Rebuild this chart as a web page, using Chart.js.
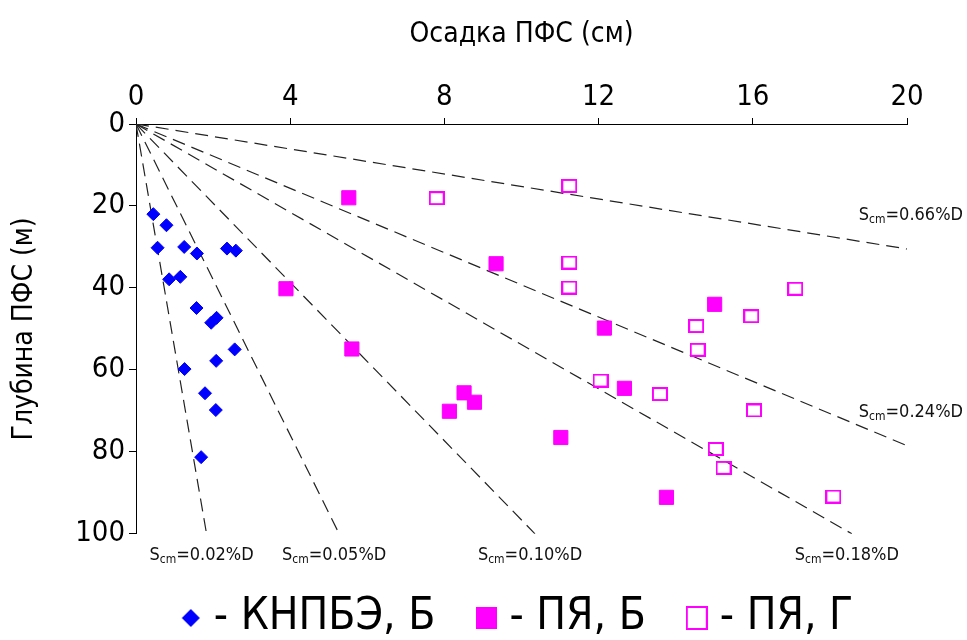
<!DOCTYPE html>
<html>
<head>
<meta charset="utf-8">
<script src="https://cdn.jsdelivr.net/npm/chart.js@4.4.1/dist/chart.umd.min.js"></script>
<style>
    html, body { margin: 0; padding: 0; background: #fff; }
    #wrap { width: 967px; height: 640px; }
</style>
</head>
<body>
<div id="wrap"><canvas id="settle-chart"></canvas></div>
<script>
// settlement (cm) vs depth (m)
var knpbeX = [0.45, 0.79, 0.56, 1.25, 1.58, 2.36, 2.59, 0.86, 1.15, 1.57, 1.95, 2.09, 2.56, 2.08, 1.26, 1.79, 2.07, 1.69];
var knpbeY = [22.0, 24.7, 30.2, 30.0, 31.6, 30.4, 30.9, 37.9, 37.3, 44.9, 48.5, 47.3, 55.0, 57.8, 59.8, 65.7, 69.8, 81.3];
var pyaBX = [5.52, 9.34, 3.89, 5.60, 12.15, 12.67, 8.51, 8.78, 8.13, 11.02, 15.01, 13.76];
var pyaBY = [18.0, 34.1, 40.2, 54.9, 49.8, 64.5, 65.6, 67.9, 70.1, 76.5, 44.0, 91.1];
var pyaGX = [7.80, 11.24, 11.24, 11.24, 12.05, 13.59, 17.10, 15.96, 14.53, 14.57, 16.03, 15.04, 15.24, 18.09];
var pyaGY = [18.1, 15.1, 33.8, 39.9, 62.6, 65.9, 40.2, 46.9, 49.3, 55.1, 69.9, 79.3, 83.9, 90.9];
var seriesNames = ['КНПБЭ, Б', 'ПЯ, Б', 'ПЯ, Г'];

// reference lines S = k*D, drawn from the origin to where they leave the plot
var refNames = ['0.02', '0.05', '0.10', '0.18', '0.24', '0.66'];
var refEndX = [1.83, 5.27, 10.35, 18.57, 20, 20];
var refEndY = [100, 100, 100, 100, 78.5, 30.5];

var xTicks = [0, 4, 8, 12, 16, 20];
var yTicks = [0, 20, 40, 60, 80, 100];

var FONT = "'DejaVu Sans Condensed', 'Liberation Sans Narrow', 'DejaVu Sans', sans-serif";
var BLUE = '#0000ff';
var MAGENTA = '#ff00ff';

function toPoints(xs, ys) {
    return xs.map(function (x, i) { return {x: x, y: ys[i]}; });
}

function makeIcon(w, h, draw) {
    var c = document.createElement('canvas');
    c.width = w;
    c.height = h;
    draw(c.getContext('2d'), w, h);
    return c;
}

var openSquare = makeIcon(16, 14, function (g, w, h) {
    g.strokeStyle = MAGENTA;
    g.lineWidth = 2;
    g.strokeRect(1, 1, w - 2, h - 2);
});

var legendIcons = [
    makeIcon(20, 20, function (g) {
        g.fillStyle = BLUE;
        g.beginPath();
        g.moveTo(10, 1); g.lineTo(19, 10); g.lineTo(10, 19); g.lineTo(1, 10);
        g.closePath();
        g.fill();
    }),
    makeIcon(21, 22, function (g, w, h) {
        g.fillStyle = MAGENTA;
        g.fillRect(0, 0, w, h);
    }),
    makeIcon(22, 24, function (g, w, h) {
        g.strokeStyle = MAGENTA;
        g.lineWidth = 2;
        g.strokeRect(1, 1, w - 2, h - 2);
    })
];

var datasets = [
    {
        label: seriesNames[0],
        data: toPoints(knpbeX, knpbeY),
        pointStyle: 'rectRot',
        pointRadius: 6.5,
        backgroundColor: BLUE,
        borderColor: BLUE,
        borderWidth: 1
    },
    {
        label: seriesNames[1],
        data: toPoints(pyaBX, pyaBY),
        pointStyle: 'rect',
        pointRadius: 10,
        backgroundColor: MAGENTA,
        borderColor: MAGENTA,
        borderWidth: 1
    },
    {
        label: seriesNames[2],
        data: toPoints(pyaGX, pyaGY),
        pointStyle: openSquare,
        pointRadius: 8,
        backgroundColor: 'rgba(0,0,0,0)',
        borderColor: MAGENTA
    }
];

refNames.forEach(function (name, i) {
    datasets.push({
        label: 'S=' + name + '%D',
        data: [{x: 0, y: 0}, {x: refEndX[i], y: refEndY[i]}],
        showLine: true,
        fill: false,
        borderColor: '#222',
        borderWidth: 1.2,
        borderDash: [13, 7],
        pointRadius: 0
    });
});

// S_cm=...%D captions next to each reference line
var refLabelPlugin = {
    id: 'refLabels',
    afterDatasetsDraw: function (chart) {
        var ctx = chart.ctx;
        var xs = chart.scales.x, ys = chart.scales.y, area = chart.chartArea;
        var big = '18px ' + FONT, small = '12px ' + FONT;
        ctx.save();
        ctx.fillStyle = '#111';
        ctx.textBaseline = 'alphabetic';
        ctx.textAlign = 'left';
        refNames.forEach(function (name, i) {
            var rest = '=' + name + '%D';
            ctx.font = big;
            var wS = ctx.measureText('S').width;
            var wRest = ctx.measureText(rest).width;
            ctx.font = small;
            var wSub = ctx.measureText('cm').width;
            var total = wS + wSub + wRest;
            var left, base;
            if (refEndY[i] >= 100) {
                left = xs.getPixelForValue(refEndX[i]) - 5 - total / 2;
                base = area.bottom + 26;
            } else {
                left = area.right + 56 - total;
                base = ys.getPixelForValue(refEndY[i]) - 29;
            }
            ctx.font = big;
            ctx.fillText('S', left, base);
            ctx.font = small;
            ctx.fillText('cm', left + wS, base + 3);
            ctx.font = big;
            ctx.fillText(rest, left + wS + wSub, base);
        });
        ctx.restore();
    }
};

var ctx = document.getElementById('settle-chart').getContext('2d');
var chart = new Chart(ctx, {
    type: 'scatter',
    data: {datasets: datasets},
    plugins: [refLabelPlugin],
    options: {
        responsive: true,
        maintainAspectRatio: false,
        animation: false,
        layout: {padding: {left: 0, top: 0, right: 60, bottom: -10}},
        plugins: {
            tooltip: {enabled: false},
            legend: {
                position: 'bottom',
                fullSize: false,
                title: {display: true, text: ' ', font: {size: 1}, padding: {top: 5, bottom: 6}},
                labels: {
                    usePointStyle: true,
                    boxWidth: 2,
                    padding: 50,
                    color: '#000',
                    font: {family: FONT, size: 44},
                    generateLabels: function (chart) {
                        return seriesNames.map(function (name, i) {
                            return {
                                text: '- ' + name,
                                pointStyle: legendIcons[i],
                                fillStyle: 'rgba(0,0,0,0)',
                                strokeStyle: 'rgba(0,0,0,0)',
                                lineWidth: 0,
                                hidden: false,
                                datasetIndex: i,
                                fontColor: '#000'
                            };
                        });
                    }
                }
            }
        },
        scales: {
            x: {
                type: 'linear',
                position: 'top',
                min: 0,
                max: 20,
                afterFit: function (s) { s.height = 124; },
                afterBuildTicks: function (s) {
                    s.ticks = xTicks.map(function (v) { return {value: v}; });
                },
                ticks: {color: '#000', padding: 3, font: {family: FONT, size: 29}},
                grid: {drawOnChartArea: false, tickLength: 6, color: '#000'},
                border: {color: '#000', width: 1},
                title: {
                    display: true,
                    text: 'Осадка ПФС (см)',
                    color: '#000',
                    font: {family: FONT, size: 28},
                    padding: {top: 18, bottom: 0}
                }
            },
            y: {
                type: 'linear',
                reverse: true,
                min: 0,
                max: 100,
                afterFit: function (s) { s.width = 136; },
                afterBuildTicks: function (s) {
                    s.ticks = yTicks.map(function (v) { return {value: v}; });
                },
                ticks: {color: '#000', padding: 4, font: {family: FONT, size: 29}},
                grid: {drawOnChartArea: false, tickLength: 7, color: '#000'},
                border: {color: '#000', width: 1},
                title: {
                    display: true,
                    text: 'Глубина ПФС (м)',
                    color: '#000',
                    font: {family: FONT, size: 28},
                    padding: {top: 8, bottom: 0}
                }
            }
        }
    }
});
</script>
</body>
</html>
